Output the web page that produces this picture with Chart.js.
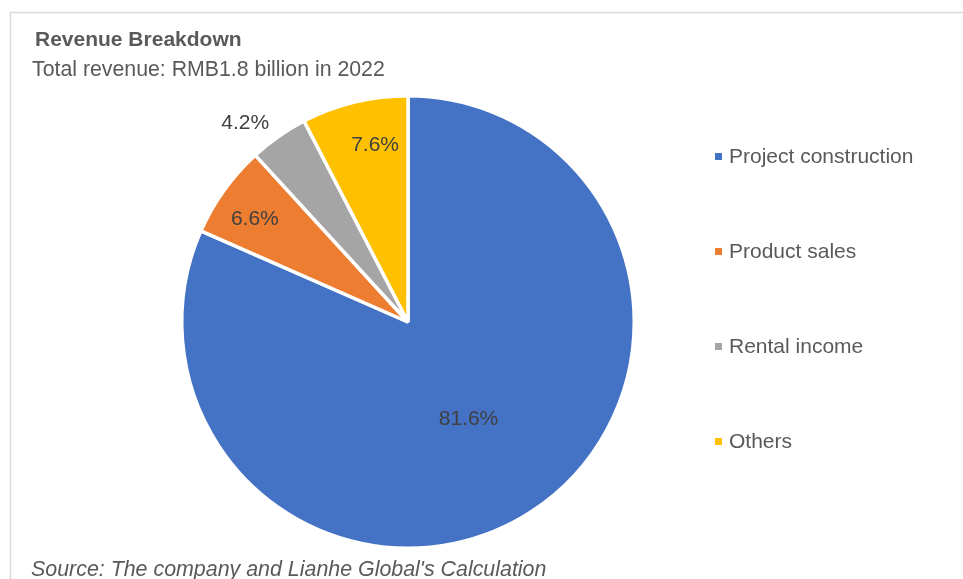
<!DOCTYPE html>
<html>
<head>
<meta charset="utf-8">
<script src="https://cdn.jsdelivr.net/npm/chart.js@4/dist/chart.umd.min.js"></script>
<style>
  html, body { margin: 0; padding: 0; background: #ffffff; }
  #wrap { position: relative; width: 963px; height: 579px; }
</style>
</head>
<body>
<div id="wrap"><canvas id="c" width="963" height="579"></canvas></div>
<script>
// ---- data ----
const categories = ["Project construction", "Product sales", "Rental income", "Others"];
const shares = [81.6, 6.6, 4.2, 7.6];
const valueLabels = ["81.6%", "6.6%", "4.2%", "7.6%"];
const chartTitle = "Revenue Breakdown";
const chartSubtitle = "Total revenue: RMB1.8 billion in 2022";
const sourceNote = "Source: The company and Lianhe Global's Calculation";

// ---- style ----
const colors = ["#4472C4", "#ED7D31", "#A5A5A5", "#FFC000"];
const FONT = "'Liberation Sans', Arial, sans-serif";
// label placement: fraction of radius and angle shift (deg) from slice middle
const labelRadius = [0.50, 0.82, 1.14, 0.80];
const labelShift = [0.8, -1.3, -4.2, 3.2];

const decor = {
  id: 'decor',
  beforeDraw(chart) {
    const ctx = chart.ctx;
    ctx.save();
    ctx.strokeStyle = '#d9d9d9';
    ctx.lineWidth = 1.5;
    ctx.beginPath();
    ctx.moveTo(10.5, 600);
    ctx.lineTo(10.5, 12.5);
    ctx.lineTo(980, 12.5);
    ctx.stroke();
    ctx.restore();
  },
  afterDraw(chart) {
    const ctx = chart.ctx;
    ctx.save();
    ctx.fillStyle = '#595959';
    ctx.textBaseline = 'alphabetic';
    ctx.textAlign = 'left';
    ctx.font = "bold 21px " + FONT;
    ctx.fillText(chartTitle, 35, 46);
    ctx.font = "21.3px " + FONT;
    ctx.fillText(chartSubtitle, 32, 76);
    ctx.font = "italic 21.4px " + FONT;
    ctx.fillText(sourceNote, 31, 576);

    // legend
    ctx.font = "21px " + FONT;
    categories.forEach((name, i) => {
      const base = 163 + i * 95;
      ctx.fillStyle = colors[i];
      ctx.fillRect(715, base - 10, 7, 7);
      ctx.fillStyle = '#595959';
      ctx.fillText(name, 729, base);
    });

    // data labels
    const meta = chart.getDatasetMeta(0);
    ctx.fillStyle = '#404040';
    ctx.textAlign = 'center';
    ctx.textBaseline = 'middle';
    ctx.font = "21px " + FONT;
    meta.data.forEach((arc, i) => {
      const p = arc.getProps(['x', 'y', 'startAngle', 'endAngle', 'outerRadius'], true);
      const mid = (p.startAngle + p.endAngle) / 2 + labelShift[i] * Math.PI / 180;
      const r = p.outerRadius * labelRadius[i];
      ctx.fillText(valueLabels[i], p.x + r * Math.cos(mid), p.y + r * Math.sin(mid) + 1.5);
    });
    ctx.restore();
  }
};

new Chart(document.getElementById('c'), {
  type: 'pie',
  data: {
    labels: categories,
    datasets: [{
      data: shares,
      backgroundColor: colors,
      borderColor: '#ffffff',
      borderWidth: 3.5,
      hoverOffset: 0,
      offset: 0
    }]
  },
  options: {
    responsive: false,
    animation: false,
    events: [],
    layout: { padding: { left: 180, right: 327, top: 94, bottom: 29 } },
    plugins: {
      legend: { display: false },
      title: { display: false },
      tooltip: { enabled: false }
    }
  },
  plugins: [decor]
});
</script>
</body>
</html>
